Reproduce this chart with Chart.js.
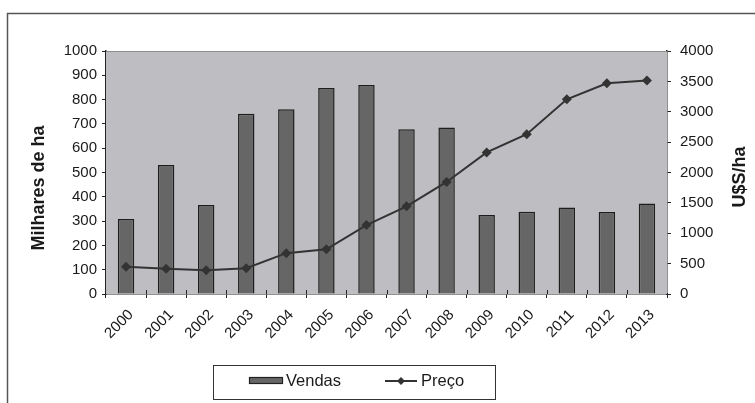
<!DOCTYPE html>
<html>
<head>
<meta charset="utf-8">
<script src="https://cdn.jsdelivr.net/npm/chart.js@4/dist/chart.umd.min.js"></script>
<style>
  html, body { margin: 0; padding: 0; background: #fff; }
  #wrap { width: 755px; height: 403px; }
</style>
</head>
<body>
<div id="wrap"><canvas id="c" width="755" height="403"></canvas></div>
<script>
// Land sales (thousand ha) and price (US$/ha), 2000-2013
const years = ['2000','2001','2002','2003','2004','2005','2006','2007','2008','2009','2010','2011','2012','2013'];
const vendas = [309, 531, 366, 742, 760, 848, 860, 678, 685, 325, 338, 356, 337, 372];
const preco  = [450, 415, 390, 425, 672, 735, 1135, 1443, 1844, 2330, 2630, 3205, 3470, 3515];
const leftTicks = { min: 0, max: 1000, step: 100 };
const rightTicks = { min: 0, max: 4000, step: 500 };
const leftTitle = 'Milhares de ha';
const rightTitle = 'U$S/ha';

const FONT = '"Liberation Sans", Arial, sans-serif';
const INK = '#1a1a1a';
const AXIS = '#222';

// Frame, plot background, inner x ticks, axis titles and boxed legend
const decor = {
  id: 'decor',
  beforeDatasetsDraw(chart) {
    const { ctx, chartArea: a } = chart;
    ctx.save();
    ctx.fillStyle = '#bebec2';
    ctx.fillRect(a.left, a.top, a.right - a.left, a.bottom - a.top);
    ctx.strokeStyle = '#8c8c8c';
    ctx.lineWidth = 1;
    ctx.beginPath();
    ctx.moveTo(a.left, a.top + 0.5);
    ctx.lineTo(a.right, a.top + 0.5);
    ctx.stroke();
    ctx.restore();
  },
  afterDraw(chart) {
    const { ctx, chartArea: a } = chart;
    const xs = chart.scales.x;
    ctx.save();
    // outer frame
    ctx.strokeStyle = '#555';
    ctx.lineWidth = 1.5;
    ctx.beginPath();
    ctx.moveTo(7.5, 403);
    ctx.lineTo(7.5, 13.5);
    ctx.lineTo(755, 13.5);
    ctx.stroke();

    // tick marks crossing into the plot on the category axis
    ctx.strokeStyle = AXIS;
    ctx.lineWidth = 1;
    const n = years.length;
    for (let i = 1; i < n; i++) {
      const x = Math.round(xs.getPixelForValue(i - 0.5)) + 0.5;
      ctx.beginPath();
      ctx.moveTo(x, a.bottom);
      ctx.lineTo(x, a.bottom - 4);
      ctx.stroke();
    }

    // axis titles
    ctx.fillStyle = INK;
    ctx.font = 'bold 18px ' + FONT;
    ctx.textAlign = 'center';
    ctx.textBaseline = 'middle';
    ctx.save();
    ctx.translate(39, 188);
    ctx.rotate(-Math.PI / 2);
    ctx.fillText(leftTitle, 0, 0);
    ctx.restore();
    ctx.save();
    ctx.translate(740, 177);
    ctx.rotate(-Math.PI / 2);
    ctx.fillText(rightTitle, 0, 0);
    ctx.restore();

    // legend
    const ds = chart.data.datasets;
    const barLabel = ds.find(d => d.type === 'bar').label;
    const lineLabel = ds.find(d => d.type === 'line').label;
    ctx.strokeStyle = '#333';
    ctx.lineWidth = 1;
    ctx.strokeRect(213.5, 365.5, 282, 34);
    ctx.fillStyle = '#666';
    ctx.fillRect(249, 377, 34, 7);
    ctx.strokeStyle = '#222';
    ctx.lineWidth = 1.2;
    ctx.strokeRect(249.5, 377.5, 33, 6);
    ctx.strokeStyle = '#333';
    ctx.lineWidth = 2;
    ctx.beginPath();
    ctx.moveTo(385, 381);
    ctx.lineTo(417, 381);
    ctx.stroke();
    ctx.fillStyle = '#333';
    ctx.beginPath();
    ctx.moveTo(401, 377);
    ctx.lineTo(405, 381);
    ctx.lineTo(401, 385);
    ctx.lineTo(397, 381);
    ctx.closePath();
    ctx.fill();
    ctx.fillStyle = INK;
    ctx.font = '16.5px ' + FONT;
    ctx.textAlign = 'left';
    ctx.textBaseline = 'middle';
    ctx.fillText(barLabel, 286, 381);
    ctx.fillText(lineLabel, 421, 381);
    ctx.restore();
  }
};

const tickFont = { family: FONT, size: 15 };
const plain = v => String(v);

new Chart(document.getElementById('c'), {
  type: 'bar',
  data: {
    labels: years,
    datasets: [
      {
        type: 'line',
        label: 'Preço',
        data: preco,
        yAxisID: 'y1',
        borderColor: '#333',
        borderWidth: 2,
        backgroundColor: '#333',
        pointStyle: 'rectRot',
        pointRadius: 5,
        pointBorderWidth: 0,
        pointBackgroundColor: '#333',
        tension: 0,
        order: 1
      },
      {
        type: 'bar',
        label: 'Vendas',
        data: vendas,
        yAxisID: 'y',
        backgroundColor: '#666',
        borderColor: '#1e1e1e',
        borderWidth: 1.5,
        categoryPercentage: 1,
        barPercentage: 0.41,
        order: 2
      }
    ]
  },
  options: {
    responsive: false,
    animation: false,
    devicePixelRatio: 1,
    layout: { padding: { left: 0, right: 0, top: 51, bottom: 0 } },
    plugins: { legend: { display: false }, tooltip: { enabled: false } },
    scales: {
      x: {
        offset: true,
        grid: { offset: true, drawOnChartArea: false, tickLength: 4, color: AXIS, lineWidth: 1 },
        border: { color: AXIS, width: 1.5 },
        ticks: { font: tickFont, color: INK, maxRotation: 45, minRotation: 45, autoSkip: false, padding: 8, labelOffset: 5 },
        afterFit(s) { s.height = 109; }
      },
      y: {
        position: 'left',
        min: leftTicks.min, max: leftTicks.max,
        grid: { drawOnChartArea: false, tickLength: 4, color: AXIS },
        border: { color: AXIS, width: 1.5 },
        ticks: { stepSize: leftTicks.step, font: tickFont, color: INK, padding: 5, callback: plain },
        afterFit(s) { s.width = 106; }
      },
      y1: {
        position: 'right',
        min: rightTicks.min, max: rightTicks.max,
        grid: { drawOnChartArea: false, tickLength: 4, color: AXIS },
        border: { color: AXIS, width: 1.5 },
        ticks: { stepSize: rightTicks.step, font: tickFont, color: INK, padding: 9, callback: plain },
        afterFit(s) { s.width = 88; }
      }
    }
  },
  plugins: [decor]
});
</script>
</body>
</html>
